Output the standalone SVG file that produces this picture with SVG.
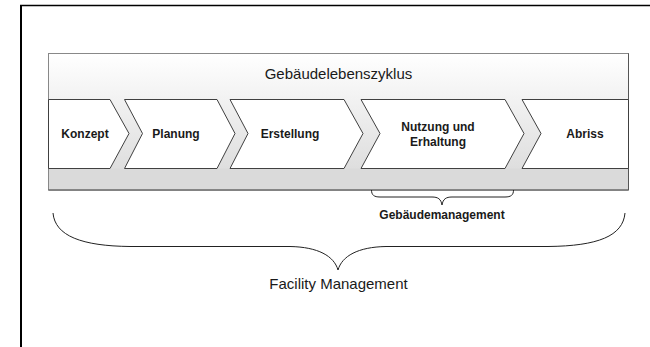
<svg xmlns="http://www.w3.org/2000/svg" width="650" height="347" viewBox="0 0 650 347">
<style>
.chev{fill:#ffffff;stroke:#404040;stroke-width:1}
.lbl{font-family:"Liberation Sans",Arial,sans-serif;font-weight:bold;font-size:12px;fill:#1a1a1a;text-anchor:middle}
.big{font-family:"Liberation Sans",Arial,sans-serif;font-size:15px;fill:#1a1a1a;text-anchor:middle}
.brace{fill:none;stroke:#222;stroke-width:1}
</style>
<defs>
<linearGradient id="bg" x1="0" y1="0" x2="0" y2="1">
<stop offset="0" stop-color="#ffffff"/>
<stop offset="1" stop-color="#d8d8d8"/>
</linearGradient>
</defs>
<rect width="650" height="347" fill="#ffffff"/>
<g id="frame">
<line x1="20" y1="5.5" x2="650" y2="5.5" stroke="#000" stroke-width="1.5"/>
<line x1="21" y1="5" x2="21" y2="347" stroke="#000" stroke-width="2"/>
</g>
<g id="lifecycle">
<rect x="48.5" y="53.5" width="580" height="136.5" fill="url(#bg)" stroke="#888" stroke-width="1"/>
<rect x="49" y="168.5" width="579" height="21" fill="#dadada"/>
<line x1="48.5" y1="190" x2="628.5" y2="190" stroke="#444" stroke-width="1"/>
<line x1="628.5" y1="53.5" x2="628.5" y2="190" stroke="#555" stroke-width="1"/>
<text class="big" x="338.5" y="79">Gebäudelebenszyklus</text>
</g>
<g id="konzept">
<path class="chev" d="M48.5,99.5 L110,99.5 L129,133.5 L110,168.5 L48.5,168.5 Z"/>
<text class="lbl" x="85" y="138">Konzept</text>
</g>
<g id="planung">
<path class="chev" d="M124.5,99.5 L217,99.5 L235,133.5 L217,168.5 L124.5,168.5 L142.5,133.5 Z"/>
<text class="lbl" x="176" y="138">Planung</text>
</g>
<g id="erstellung">
<path class="chev" d="M230,99.5 L344,99.5 L363,133.5 L344,168.5 L230,168.5 L248,133.5 Z"/>
<text class="lbl" x="290" y="138">Erstellung</text>
</g>
<g id="nutzung">
<path class="chev" d="M361,99.5 L505,99.5 L524,133.5 L505,168.5 L361,168.5 L380,133.5 Z"/>
<text class="lbl" x="438" y="131">Nutzung und</text>
<text class="lbl" x="438" y="146">Erhaltung</text>
</g>
<g id="abriss">
<path class="chev" d="M522,99.5 L628.5,99.5 L628.5,168.5 L522,168.5 L541,133.5 Z"/>
<text class="lbl" x="585" y="138">Abriss</text>
</g>
<g id="connectors">
<path class="brace" d="M371.5,190 C371.5,195 374,197 380,197 L432,197 C438,197 441,199 442,205 C443,199 446,197 452,197 L505,197 C511,197 513.5,195 513.5,190"/>
<path class="brace" d="M53,213 C55,236 82,246 130,246.5 L290,246.5 C318,247 334,256 338,270 C342,256 358,247 386,246.5 L548,246.5 C598,246 623,236 625,213"/>
</g>
<g id="gebaeudemanagement">
<text class="lbl" x="442" y="219">Gebäudemanagement</text>
</g>
<g id="facility">
<text class="big" x="338.5" y="289">Facility Management</text>
</g>
</svg>
